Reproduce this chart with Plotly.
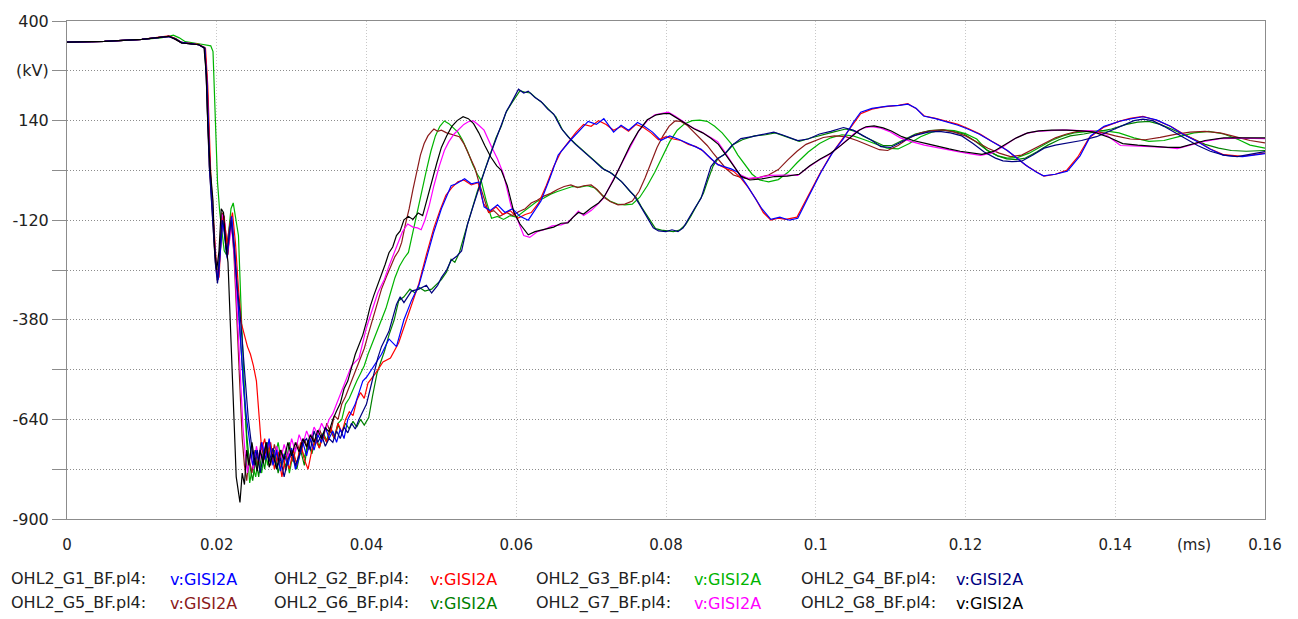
import plotly.graph_objects as go

# ---- data: (time in ms, voltage in kV) ----
G1 = [(0,345),(0.005,347),(0.01,352),(0.0125,357),(0.0136,360),(0.0145,353),(0.0153,344),(0.0176,338),(0.0184,328),(0.0187,240),(0.0189,110),(0.0191,10),(0.0193,-50),(0.0196,-150),(0.0199,-240),(0.0202,-275),(0.0205,-190),(0.0208,-120),(0.0211,-170),(0.0214,-220),(0.0217,-150),(0.0220,-110),(0.0224,-200),(0.0228,-330),(0.0232,-450),(0.0236,-560),(0.024,-640),(0.0244,-700),(0.0248,-760),(0.0252,-720),(0.0256,-750),(0.026,-700),(0.0265,-745),(0.027,-690),(0.0275,-760),(0.028,-720),(0.0285,-775),(0.029,-730),(0.0295,-760),(0.03,-715),(0.0305,-770),(0.031,-740),(0.0315,-700),(0.032,-735),(0.0325,-690),(0.033,-720),(0.0335,-680),(0.034,-700),(0.0345,-660),(0.035,-690),(0.0355,-670),(0.036,-700),(0.0365,-665),(0.037,-690),(0.0375,-640),(0.038,-620),(0.0385,-600),(0.039,-570),(0.0395,-540),(0.04,-530),(0.041,-500),(0.042,-470),(0.043,-430),(0.044,-450),(0.045,-380),(0.046,-330),(0.047,-290),(0.048,-220),(0.049,-150),(0.05,-90),(0.0507,-60),(0.0513,-30),(0.052,-25),(0.0531,-12),(0.054,-25),(0.055,-20),(0.0557,-85),(0.0565,-95),(0.0575,-80),(0.0585,-100),(0.0595,-90),(0.0605,-110),(0.0616,-120),(0.0625,-95),(0.0633,-70),(0.0645,-10),(0.0656,50),(0.0673,90),(0.0685,115),(0.0696,138),(0.0707,130),(0.0717,145),(0.073,110),(0.074,128),(0.075,115),(0.0762,135),(0.0771,125),(0.0782,110),(0.0793,88),(0.0805,100),(0.0816,92),(0.083,80),(0.0847,65),(0.0858,45),(0.0869,25),(0.0887,14),(0.0896,5),(0.0907,-25),(0.0917,-55),(0.0928,-90),(0.094,-118),(0.0952,-112),(0.0965,-120),(0.0976,-115),(0.099,-60),(0.1007,5),(0.1022,55),(0.1037,93),(0.105,135),(0.106,162),(0.1075,172),(0.1096,178),(0.1112,180),(0.1123,183),(0.1134,172),(0.1144,152),(0.116,145),(0.1176,137),(0.119,128),(0.1203,118),(0.1218,105),(0.1233,88),(0.1245,75),(0.1256,62),(0.127,40),(0.1283,20),(0.1295,5),(0.1304,-4),(0.132,0),(0.1336,8),(0.1353,48),(0.1367,100),(0.1385,125),(0.1407,139),(0.1422,145),(0.1437,150),(0.1455,142),(0.1473,126),(0.149,105),(0.151,85),(0.1527,65),(0.1544,50),(0.1557,47),(0.157,46),(0.1585,50),(0.16,54)]

G2 = [(0,345),(0.005,347),(0.01,352),(0.0125,357),(0.0136,361),(0.0145,354),(0.0153,344),(0.0176,339),(0.0185,328),(0.0188,230),(0.019,90),(0.0192,0),(0.0194,-70),(0.0197,-170),(0.02,-250),(0.0203,-270),(0.0206,-160),(0.0209,-110),(0.0212,-150),(0.0215,-210),(0.0218,-130),(0.0221,-100),(0.0225,-180),(0.0229,-300),(0.0233,-390),(0.0237,-420),(0.0241,-450),(0.0245,-470),(0.0249,-500),(0.0253,-540),(0.0257,-660),(0.026,-720),(0.0264,-690),(0.0268,-740),(0.0272,-700),(0.0277,-770),(0.0282,-725),(0.0287,-790),(0.0292,-735),(0.0297,-770),(0.0302,-720),(0.0307,-760),(0.0312,-700),(0.0317,-745),(0.0322,-770),(0.0327,-720),(0.0332,-690),(0.0337,-715),(0.0342,-680),(0.0347,-700),(0.0352,-660),(0.0357,-690),(0.0362,-650),(0.0367,-675),(0.0372,-640),(0.0377,-620),(0.0382,-630),(0.0387,-590),(0.0392,-570),(0.0397,-585),(0.0402,-545),(0.0412,-520),(0.0422,-490),(0.0432,-480),(0.0443,-440),(0.0452,-390),(0.0462,-330),(0.047,-285),(0.048,-210),(0.049,-140),(0.0498,-95),(0.0506,-55),(0.0514,-35),(0.0522,-20),(0.053,-15),(0.054,-28),(0.0549,-22),(0.0556,-75),(0.0564,-100),(0.0573,-85),(0.0582,-105),(0.0592,-95),(0.0602,-115),(0.0612,-105),(0.062,-100),(0.063,-75),(0.064,-30),(0.065,20),(0.066,60),(0.067,85),(0.068,110),(0.069,130),(0.07,125),(0.071,140),(0.072,130),(0.073,115),(0.074,125),(0.075,112),(0.076,130),(0.077,122),(0.078,108),(0.079,90),(0.08,98),(0.081,92),(0.082,88),(0.083,78),(0.084,72),(0.085,60),(0.086,40),(0.087,25),(0.088,15),(0.089,8),(0.09,-10),(0.091,-35),(0.092,-65),(0.093,-100),(0.094,-120),(0.095,-115),(0.096,-118),(0.0975,-112),(0.099,-55),(0.1005,0),(0.102,50),(0.1035,90),(0.105,130),(0.106,158),(0.1075,170),(0.109,176),(0.111,180),(0.1123,184),(0.1135,170),(0.1145,152),(0.116,146),(0.1175,138),(0.119,130),(0.1205,118),(0.122,104),(0.1235,86),(0.125,70),(0.1265,48),(0.128,24),(0.1295,6),(0.1305,-5),(0.132,0),(0.1335,10),(0.135,45),(0.1365,95),(0.1385,123),(0.1405,138),(0.142,146),(0.1437,151),(0.1455,141),(0.1475,124),(0.149,106),(0.151,86),(0.1527,66),(0.1545,51),(0.157,47),(0.16,55)]

G3 = [(0,345),(0.005,347),(0.01,352),(0.0125,356),(0.0136,360),(0.0142,363),(0.015,356),(0.0158,346),(0.0178,340),(0.0192,335),(0.0195,320),(0.0197,200),(0.0199,60),(0.0201,-20),(0.0204,-100),(0.0207,-150),(0.021,-200),(0.0213,-210),(0.0216,-140),(0.0219,-90),(0.0222,-75),(0.0225,-110),(0.0229,-160),(0.0233,-377),(0.0237,-548),(0.024,-700),(0.0244,-806),(0.0248,-760),(0.0252,-790),(0.0256,-735),(0.026,-780),(0.0264,-720),(0.0268,-760),(0.0272,-710),(0.0277,-745),(0.0282,-700),(0.0287,-760),(0.0292,-720),(0.0297,-780),(0.0302,-730),(0.0307,-755),(0.0312,-710),(0.0317,-740),(0.0322,-700),(0.0327,-725),(0.0332,-690),(0.0337,-710),(0.0342,-675),(0.0347,-695),(0.0352,-660),(0.0357,-685),(0.0362,-650),(0.0367,-640),(0.0372,-600),(0.0377,-585),(0.0382,-560),(0.0387,-540),(0.0392,-520),(0.0397,-500),(0.0402,-470),(0.0408,-440),(0.0414,-410),(0.042,-380),(0.0426,-350),(0.0432,-310),(0.0438,-270),(0.0444,-240),(0.045,-220),(0.0456,-204),(0.0462,-150),(0.0468,-90),(0.0474,-40),(0.048,10),(0.0486,60),(0.0492,100),(0.0498,125),(0.0504,139),(0.051,132),(0.0516,120),(0.0522,110),(0.0528,90),(0.0535,60),(0.0542,25),(0.0548,0),(0.0553,-16),(0.056,-70),(0.0567,-115),(0.0575,-110),(0.0583,-118),(0.0592,-108),(0.06,-112),(0.0608,-100),(0.0617,-85),(0.0627,-72),(0.0637,-62),(0.0646,-52),(0.0655,-45),(0.0665,-38),(0.0675,-32),(0.0685,-34),(0.0695,-30),(0.0705,-36),(0.0715,-55),(0.0725,-70),(0.0735,-78),(0.0745,-80),(0.0755,-78),(0.0765,-60),(0.0775,-30),(0.0785,5),(0.0795,45),(0.0805,85),(0.0815,115),(0.0825,132),(0.0835,140),(0.0845,141),(0.0855,138),(0.0865,125),(0.0875,108),(0.0887,80),(0.0896,50),(0.0905,25),(0.0915,0),(0.0925,-15),(0.0937,-20),(0.095,-14),(0.0963,5),(0.0975,30),(0.099,58),(0.1005,80),(0.102,95),(0.1035,103),(0.105,100),(0.1065,90),(0.108,78),(0.1095,68),(0.111,66),(0.1125,80),(0.114,98),(0.1155,110),(0.117,116),(0.1185,114),(0.12,106),(0.1215,92),(0.1229,62),(0.1243,48),(0.1256,42),(0.127,44),(0.1285,55),(0.13,72),(0.1315,88),(0.133,100),(0.1345,108),(0.1365,112),(0.1385,114),(0.1405,108),(0.1425,95),(0.1445,86),(0.1465,88),(0.1485,98),(0.1505,108),(0.1525,112),(0.1545,105),(0.1565,90),(0.158,76),(0.16,68)]

G4 = [(0,345),(0.005,347),(0.01,352),(0.0125,357),(0.0136,360),(0.0145,353),(0.0153,343),(0.0176,338),(0.0184,330),(0.0186,250),(0.0188,120),(0.019,20),(0.0192,-40),(0.0195,-140),(0.0198,-230),(0.0201,-285),(0.0204,-210),(0.0207,-120),(0.021,-140),(0.0213,-210),(0.0216,-170),(0.0219,-120),(0.0223,-190),(0.0227,-290),(0.0231,-360),(0.0235,-470),(0.0239,-580),(0.0242,-635),(0.0246,-700),(0.025,-760),(0.0254,-720),(0.0258,-780),(0.0262,-735),(0.0266,-700),(0.027,-750),(0.0275,-715),(0.028,-770),(0.0285,-740),(0.029,-790),(0.0295,-745),(0.03,-720),(0.0305,-760),(0.031,-735),(0.0315,-700),(0.032,-690),(0.0325,-720),(0.033,-670),(0.0335,-700),(0.034,-680),(0.0345,-710),(0.035,-690),(0.0355,-700),(0.036,-670),(0.0365,-690),(0.037,-660),(0.0375,-675),(0.038,-650),(0.0385,-665),(0.039,-640),(0.0395,-620),(0.04,-600),(0.0405,-560),(0.041,-520),(0.0415,-480),(0.042,-450),(0.043,-410),(0.044,-340),(0.0445,-320),(0.045,-335),(0.046,-305),(0.047,-300),(0.048,-290),(0.0487,-310),(0.0495,-290),(0.05,-270),(0.0507,-250),(0.0513,-225),(0.052,-215),(0.0527,-200),(0.0535,-130),(0.0543,-80),(0.055,-35),(0.0558,10),(0.0567,60),(0.0575,100),(0.058,130),(0.0587,165),(0.0593,185),(0.0598,205),(0.0603,222),(0.061,212),(0.0616,217),(0.0625,200),(0.0633,190),(0.0642,170),(0.065,157),(0.066,120),(0.0669,98),(0.0678,80),(0.0687,65),(0.0696,50),(0.0704,35),(0.0715,15),(0.0725,5),(0.074,-18),(0.075,-40),(0.0757,-55),(0.0765,-80),(0.0775,-115),(0.0783,-140),(0.079,-148),(0.08,-150),(0.0808,-145),(0.0816,-150),(0.0823,-140),(0.083,-115),(0.0838,-90),(0.0847,-62),(0.0853,-25),(0.086,20),(0.0868,40),(0.0877,50),(0.0888,75),(0.09,93),(0.0915,98),(0.093,105),(0.0944,110),(0.0955,103),(0.0965,95),(0.0976,88),(0.099,92),(0.1005,105),(0.102,112),(0.1037,122),(0.105,115),(0.106,105),(0.1075,88),(0.1087,72),(0.11,70),(0.1115,85),(0.113,100),(0.115,110),(0.1165,112),(0.118,108),(0.1195,100),(0.121,80),(0.1225,58),(0.124,42),(0.125,35),(0.1262,33),(0.1275,34),(0.129,50),(0.1305,68),(0.132,76),(0.1336,82),(0.1355,88),(0.1375,98),(0.139,110),(0.141,128),(0.1425,140),(0.1437,144),(0.145,140),(0.1465,125),(0.148,108),(0.1495,92),(0.151,75),(0.1527,60),(0.1545,50),(0.1563,46),(0.158,52),(0.16,59)]

G5 = [(0,345),(0.005,347),(0.01,352),(0.0125,357),(0.0136,360),(0.0145,352),(0.0153,343),(0.0176,338),(0.0184,331),(0.0186,255),(0.0188,125),(0.019,25),(0.0192,-35),(0.0195,-130),(0.0198,-225),(0.0201,-280),(0.0204,-205),(0.0207,-100),(0.021,-110),(0.0213,-190),(0.0216,-150),(0.0219,-110),(0.0223,-210),(0.0227,-380),(0.0231,-560),(0.0234,-690),(0.0237,-760),(0.024,-800),(0.0243,-740),(0.0247,-780),(0.0251,-720),(0.0255,-760),(0.0259,-700),(0.0263,-745),(0.0267,-710),(0.0272,-760),(0.0277,-705),(0.0282,-750),(0.0287,-720),(0.0292,-775),(0.0297,-730),(0.0302,-750),(0.0307,-700),(0.0312,-730),(0.0317,-690),(0.0322,-720),(0.0327,-680),(0.0332,-705),(0.0337,-665),(0.0342,-690),(0.0347,-650),(0.0352,-675),(0.0357,-630),(0.0362,-640),(0.0367,-600),(0.0372,-580),(0.0377,-555),(0.0382,-530),(0.0387,-510),(0.0392,-480),(0.0397,-455),(0.0402,-420),(0.0408,-380),(0.0414,-340),(0.042,-300),(0.0426,-270),(0.0432,-240),(0.0438,-215),(0.0443,-200),(0.0447,-178),(0.0452,-130),(0.0457,-90),(0.0462,-40),(0.0467,10),(0.0472,50),(0.0477,80),(0.0482,100),(0.0487,112),(0.049,118),(0.0495,112),(0.05,115),(0.0507,108),(0.0515,103),(0.0524,98),(0.053,80),(0.0537,50),(0.0545,15),(0.055,-20),(0.0556,-55),(0.0563,-100),(0.057,-95),(0.0578,-110),(0.0587,-100),(0.0595,-108),(0.0603,-98),(0.0612,-90),(0.062,-75),(0.0628,-68),(0.0637,-57),(0.0646,-50),(0.0655,-40),(0.0664,-32),(0.0673,-28),(0.0682,-35),(0.069,-30),(0.07,-28),(0.0708,-40),(0.0717,-60),(0.0726,-72),(0.0736,-80),(0.0745,-78),(0.0755,-70),(0.0764,-45),(0.0772,-10),(0.078,30),(0.0788,70),(0.0796,100),(0.0804,125),(0.0812,139),(0.082,138),(0.0828,128),(0.0837,111),(0.0846,92),(0.0855,75),(0.0863,55),(0.0872,35),(0.088,15),(0.089,-2),(0.09,-8),(0.0912,-12),(0.0925,-8),(0.0937,-2),(0.095,12),(0.0963,38),(0.0975,60),(0.0987,78),(0.0997,85),(0.101,96),(0.1025,100),(0.104,98),(0.1055,88),(0.107,75),(0.1085,64),(0.1096,62),(0.111,75),(0.1125,95),(0.114,108),(0.1155,114),(0.117,116),(0.1185,110),(0.12,100),(0.1215,84),(0.123,68),(0.1245,55),(0.126,46),(0.1275,50),(0.129,65),(0.1305,82),(0.132,95),(0.1335,105),(0.135,112),(0.1368,112),(0.1385,108),(0.14,100),(0.142,92),(0.144,90),(0.146,96),(0.148,104),(0.15,110),(0.152,112),(0.154,108),(0.156,98),(0.158,88),(0.16,82)]

G6 = [(0,345),(0.005,347),(0.01,352),(0.0125,357),(0.0136,360),(0.0145,354),(0.0153,344),(0.0176,338),(0.0184,329),(0.0187,245),(0.0189,115),(0.0191,15),(0.0193,-45),(0.0196,-150),(0.0199,-240),(0.0202,-270),(0.0205,-180),(0.0208,-115),(0.0211,-160),(0.0214,-215),(0.0217,-160),(0.022,-115),(0.0224,-200),(0.0228,-320),(0.0232,-430),(0.0236,-560),(0.024,-680),(0.0244,-760),(0.0248,-800),(0.0252,-740),(0.0256,-790),(0.026,-730),(0.0264,-770),(0.0268,-700),(0.0272,-750),(0.0277,-720),(0.0282,-780),(0.0287,-730),(0.0292,-765),(0.0297,-700),(0.0302,-745),(0.0307,-770),(0.0312,-720),(0.0317,-760),(0.0322,-700),(0.0327,-730),(0.0332,-690),(0.0337,-715),(0.0342,-680),(0.0347,-700),(0.0352,-670),(0.0357,-690),(0.0362,-655),(0.0367,-675),(0.0372,-650),(0.0377,-665),(0.0382,-645),(0.0387,-660),(0.0392,-640),(0.0397,-655),(0.0403,-635),(0.0408,-580),(0.0414,-520),(0.0419,-490),(0.0424,-462),(0.043,-420),(0.0437,-380),(0.0443,-330),(0.045,-320),(0.0458,-300),(0.0465,-310),(0.047,-295),(0.0478,-305),(0.0487,-300),(0.0495,-285),(0.05,-275),(0.0507,-255),(0.0513,-222),(0.0518,-230),(0.0524,-205),(0.0532,-150),(0.054,-95),(0.0548,-45),(0.0556,0),(0.0565,50),(0.0573,95),(0.058,125),(0.0586,160),(0.0593,183),(0.0599,200),(0.0605,218),(0.0612,214),(0.0619,212),(0.0627,198),(0.0635,186),(0.0644,168),(0.0653,150),(0.0662,115),(0.0671,95),(0.068,78),(0.069,60),(0.0699,45),(0.0708,30),(0.0718,12),(0.0728,2),(0.0742,-22),(0.0752,-45),(0.076,-60),(0.0768,-88),(0.0778,-120),(0.0786,-142),(0.0794,-146),(0.0803,-148),(0.081,-150),(0.0818,-146),(0.0826,-132),(0.0833,-110),(0.0841,-82),(0.085,-50),(0.0856,-15),(0.0863,22),(0.087,42),(0.088,55),(0.089,78),(0.0902,90),(0.0918,100),(0.0933,103),(0.0946,108),(0.0958,100),(0.0968,92),(0.0978,86),(0.0992,94),(0.1008,103),(0.1023,110),(0.104,118),(0.1053,112),(0.1063,100),(0.1078,85),(0.109,75),(0.1102,75),(0.1118,90),(0.1133,105),(0.1152,114),(0.1168,116),(0.1183,112),(0.1198,105),(0.1213,86),(0.1228,64),(0.1243,48),(0.1255,40),(0.1268,38),(0.128,42),(0.1295,58),(0.131,76),(0.1325,90),(0.134,100),(0.1358,105),(0.1378,112),(0.1395,118),(0.1415,130),(0.143,136),(0.1445,138),(0.146,130),(0.1475,118),(0.149,104),(0.1505,90),(0.152,78),(0.1538,68),(0.1555,62),(0.1575,60),(0.16,62)]

G7 = [(0,345),(0.005,347),(0.01,352),(0.0125,357),(0.0136,360),(0.0145,353),(0.0153,344),(0.0176,338),(0.0184,330),(0.0187,248),(0.0189,118),(0.0191,12),(0.0193,-48),(0.0196,-145),(0.0199,-235),(0.0202,-275),(0.0205,-195),(0.0208,-105),(0.0211,-130),(0.0214,-205),(0.0217,-175),(0.022,-130),(0.0224,-230),(0.0228,-400),(0.0232,-560),(0.0235,-660),(0.0238,-730),(0.0241,-780),(0.0245,-730),(0.0249,-770),(0.0253,-710),(0.0257,-750),(0.0261,-700),(0.0265,-740),(0.027,-700),(0.0275,-755),(0.028,-710),(0.0285,-750),(0.029,-705),(0.0295,-740),(0.03,-690),(0.0305,-725),(0.031,-680),(0.0315,-705),(0.032,-670),(0.0325,-695),(0.033,-660),(0.0335,-680),(0.034,-650),(0.0345,-670),(0.035,-640),(0.0355,-625),(0.036,-600),(0.0365,-575),(0.037,-545),(0.0375,-520),(0.038,-500),(0.0385,-490),(0.039,-480),(0.0395,-440),(0.04,-400),(0.0405,-370),(0.041,-340),(0.0415,-310),(0.042,-290),(0.0424,-274),(0.043,-240),(0.0436,-210),(0.0442,-180),(0.0448,-150),(0.0455,-130),(0.0462,-138),(0.0468,-140),(0.0473,-145),(0.0478,-120),(0.0484,-80),(0.049,-30),(0.0497,20),(0.0504,62),(0.051,85),(0.0517,105),(0.0524,120),(0.053,130),(0.0536,137),(0.0543,139),(0.055,128),(0.0557,115),(0.0567,72),(0.0575,40),(0.0583,0),(0.0593,-83),(0.0602,-120),(0.061,-160),(0.0618,-165),(0.0628,-150),(0.0637,-145),(0.0648,-135),(0.066,-132),(0.0669,-125),(0.0677,-110),(0.0683,-96),(0.069,-108),(0.07,-95),(0.0708,-80),(0.0717,-62),(0.0728,-20),(0.074,23),(0.0752,70),(0.0763,111),(0.0775,140),(0.0785,155),(0.0795,160),(0.0803,162),(0.0812,152),(0.0824,137),(0.0835,122),(0.0847,111),(0.0858,98),(0.0869,85),(0.0878,60),(0.0888,30),(0.0898,0),(0.091,-11),(0.0925,-8),(0.094,-3),(0.0958,-2),(0.0976,-3),(0.099,18),(0.1005,38),(0.1016,49),(0.103,70),(0.1043,93),(0.1055,112),(0.1064,121),(0.1075,124),(0.1087,120),(0.1098,112),(0.1113,95),(0.1128,85),(0.1145,76),(0.116,70),(0.1175,64),(0.119,59),(0.1205,54),(0.122,49),(0.1235,55),(0.125,72),(0.1265,92),(0.128,106),(0.1295,112),(0.131,114),(0.133,116),(0.1353,114),(0.137,113),(0.139,100),(0.1407,75),(0.1425,74),(0.145,72),(0.1468,70),(0.1483,67),(0.15,76),(0.1517,85),(0.154,93),(0.157,94),(0.16,93)]

G8 = [(0,345),(0.005,347),(0.01,352),(0.0125,357),(0.0136,360),(0.0145,352),(0.0153,343),(0.0176,338),(0.0183,330),(0.0186,260),(0.0188,130),(0.0191,20),(0.0193,-40),(0.0195,-70),(0.0197,-190),(0.02,-250),(0.0203,-200),(0.0206,-90),(0.0209,-100),(0.0212,-180),(0.0215,-230),(0.0219,-420),(0.0223,-650),(0.0226,-790),(0.0229,-830),(0.0231,-857),(0.0234,-780),(0.0237,-810),(0.024,-720),(0.0243,-760),(0.0247,-700),(0.025,-740),(0.0254,-775),(0.0258,-720),(0.0262,-755),(0.0266,-700),(0.027,-765),(0.0275,-730),(0.028,-770),(0.0285,-720),(0.029,-745),(0.0295,-700),(0.03,-735),(0.0305,-700),(0.031,-725),(0.0315,-690),(0.032,-712),(0.0325,-680),(0.033,-700),(0.0335,-668),(0.034,-690),(0.0345,-662),(0.035,-672),(0.0355,-640),(0.036,-618),(0.0365,-598),(0.037,-560),(0.0375,-540),(0.038,-505),(0.0385,-470),(0.039,-445),(0.0395,-420),(0.04,-385),(0.0405,-345),(0.041,-315),(0.0415,-290),(0.042,-262),(0.0425,-235),(0.043,-205),(0.0435,-190),(0.044,-160),(0.0445,-148),(0.045,-119),(0.0456,-110),(0.0462,-118),(0.0469,-101),(0.0475,-108),(0.048,-70),(0.0487,-20),(0.0494,30),(0.05,70),(0.0507,100),(0.0514,125),(0.0521,140),(0.0529,150),(0.0536,145),(0.0543,132),(0.055,108),(0.0558,75),(0.0566,45),(0.0574,22),(0.058,10),(0.0588,-30),(0.0597,-100),(0.0605,-130),(0.0616,-158),(0.0625,-150),(0.0637,-145),(0.065,-138),(0.066,-128),(0.0669,-127),(0.0676,-112),(0.0683,-100),(0.069,-104),(0.07,-88),(0.071,-75),(0.0717,-60),(0.073,-15),(0.074,25),(0.0752,75),(0.0763,112),(0.0775,142),(0.0787,155),(0.0797,158),(0.0805,158),(0.0815,146),(0.0827,132),(0.0838,118),(0.0849,108),(0.086,94),(0.087,78),(0.088,50),(0.089,22),(0.09,-5),(0.0912,-15),(0.0928,-12),(0.0945,-6),(0.0962,-5),(0.0978,0),(0.0992,22),(0.1006,40),(0.102,55),(0.1034,76),(0.1047,98),(0.1058,115),(0.1067,124),(0.1078,126),(0.109,121),(0.1101,113),(0.1115,98),(0.113,88),(0.1148,80),(0.1163,72),(0.1178,66),(0.1193,60),(0.1208,55),(0.1222,52),(0.1238,60),(0.1253,78),(0.1268,95),(0.1283,108),(0.1298,113),(0.1315,115),(0.1335,115),(0.1355,113),(0.1372,110),(0.1392,96),(0.141,80),(0.143,76),(0.1452,73),(0.147,70),(0.1487,70),(0.1505,80),(0.152,88),(0.1545,95),(0.1575,96),(0.16,95)]

FILES = ["OHL2_G1_BF.pl4:", "OHL2_G2_BF.pl4:", "OHL2_G3_BF.pl4:", "OHL2_G4_BF.pl4:",
         "OHL2_G5_BF.pl4:", "OHL2_G6_BF.pl4:", "OHL2_G7_BF.pl4:", "OHL2_G8_BF.pl4:"]
VAR = "v:GISI2A"
SERIES = [G1, G2, G3, G4, G5, G6, G7, G8]
COLORS = ["#0000ff", "#ff0000", "#00b400", "#000080", "#8b1a1a", "#008000", "#ff00ff", "#000000"]

X_TICKS = [0, 0.02, 0.04, 0.06, 0.08, 0.1, 0.12, 0.14, 0.16]
X_TICKTEXT = ["0", "0.02", "0.04", "0.06", "0.08", "0.1", "0.12", "0.14", "0.16"]
Y_TICKS = [-900, -770, -640, -510, -380, -250, -120, 10, 140, 270, 400]
Y_TICKTEXT = ["-900", "", "-640", "", "-380", "", "-120", "", "140", "(kV)", "400"]

# draw order: later traces on top
ORDER = [2, 5, 4, 6, 1, 0, 3, 7]

fig = go.Figure()
for i in ORDER:
    pts = SERIES[i]
    fig.add_trace(go.Scatter(
        x=[p[0] for p in pts], y=[p[1] for p in pts], mode="lines",
        line=dict(color=COLORS[i], width=1.2), name=FILES[i], showlegend=False,
        hoverinfo="skip"))

FONT = "DejaVu Sans"
fig.update_layout(
    width=1298, height=619,
    margin=dict(l=65, r=33, t=16, b=100),
    paper_bgcolor="white", plot_bgcolor="white",
    font=dict(family=FONT, size=15, color="#222222"),
    showlegend=False,
    xaxis=dict(range=[0, 0.16], tickvals=X_TICKS, ticktext=X_TICKTEXT,
               showgrid=True, gridcolor="#c8c8c8", griddash="1px,2px", gridwidth=1,
               showline=True, linecolor="#8c8c8c", linewidth=1, mirror=True,
               ticks="outside", ticklen=12, tickcolor="rgba(0,0,0,0)",
               zeroline=False, tickfont=dict(size=15)),
    yaxis=dict(range=[-900, 400], tickvals=Y_TICKS, ticktext=Y_TICKTEXT,
               showgrid=True, gridcolor="#8c8c8c", griddash="1px,2px", gridwidth=1,
               showline=True, linecolor="#8c8c8c", linewidth=1, mirror=True,
               ticks="outside", ticklen=14, tickcolor="#8c8c8c",
               zeroline=False, tickfont=dict(size=16)),
)

annotations = [dict(text="(ms)", x=0.1505, xref="x", y=-0.052, yref="paper",
                    showarrow=False, xanchor="center", yanchor="middle",
                    font=dict(size=15, family=FONT, color="#222222"))]
LABEL_X = [-0.0483, 0.1708, 0.39, 0.6108]
VALUE_X = [0.0842, 0.3017, 0.5217, 0.74]
ROW_Y = [-0.1213, -0.169]
for k in range(8):
    row, col = divmod(k, 4)
    annotations.append(dict(text=FILES[k], x=LABEL_X[col], y=ROW_Y[row], xref="paper", yref="paper",
                            showarrow=False, xanchor="left", yanchor="middle",
                            font=dict(size=16, family=FONT, color="#222222")))
    annotations.append(dict(text=VAR, x=VALUE_X[col], y=ROW_Y[row], xref="paper", yref="paper",
                            showarrow=False, xanchor="left", yanchor="middle",
                            font=dict(size=16, family=FONT, color=COLORS[k])))
fig.update_layout(annotations=annotations)

fig.write_html("out.html", config={"displayModeBar": False})
